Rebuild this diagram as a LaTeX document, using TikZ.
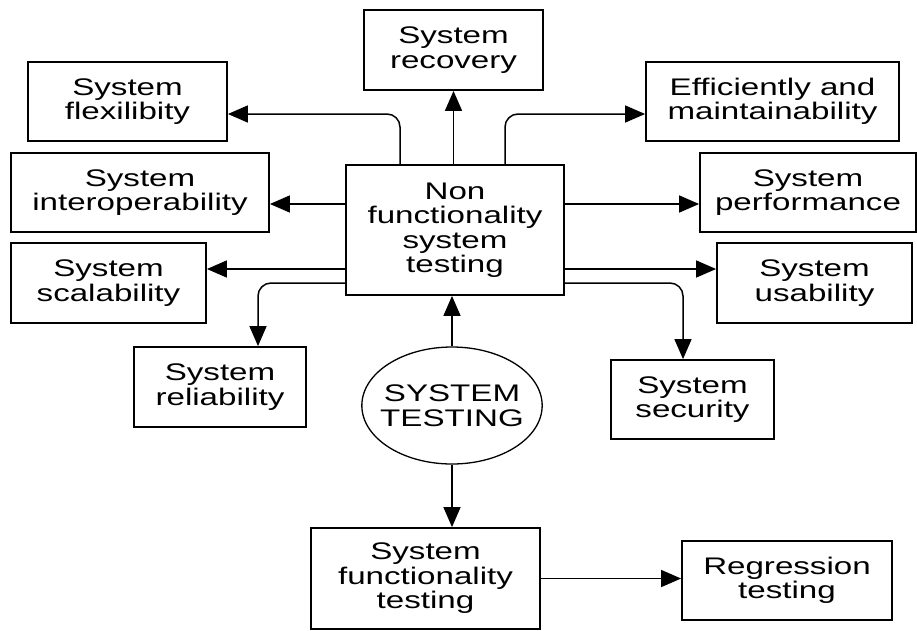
\documentclass[tikz,border=0pt]{standalone}
\usepackage{fontspec}
\setmainfont{Liberation Sans}[FakeStretch=1.38]
\usetikzlibrary{arrows.meta,shapes.geometric}
\begin{document}
\begin{tikzpicture}[x=1pt,y=-1pt,
  box/.style={draw,line width=1.8pt,align=center,inner sep=0pt,
    font=\fontsize{24}{24.5}\selectfont},
  arr/.style={line width=1.5pt,-{Triangle[length=20pt,width=17pt]},rounded corners=13pt}]
\useasboundingbox (0,0) rectangle (917,630);
\node[box,minimum width=218pt,minimum height=130pt] (nonfunc) at (455,230)
  {Non\\functionality\\system\\testing};
\node[box,minimum width=179pt,minimum height=80pt] (recovery) at (453.5,50) {System\\recovery};
\node[box,minimum width=199pt,minimum height=79pt] (flex) at (127.5,101.5) {System\\flexilibity};
\node[box,minimum width=258pt,minimum height=79pt] (interop) at (140,192.5) {System\\interoperability};
\node[box,minimum width=195pt,minimum height=80pt] (scal) at (108.5,283) {System\\scalability};
\node[box,minimum width=253pt,minimum height=79pt] (eff) at (772.5,101.5) {Efficiently and\\maintainability};
\node[box,minimum width=216pt,minimum height=79pt] (perf) at (808,192.5) {System\\performance};
\node[box,minimum width=195pt,minimum height=80pt] (usab) at (814.5,283) {System\\usability};
\node[box,minimum width=172pt,minimum height=80pt] (rel) at (220,387) {System\\reliability};
\node[box,minimum width=163pt,minimum height=79pt] (sec) at (692.5,399.5) {System\\security};
\node[box,ellipse,line width=1.3pt,inner xsep=-8pt,minimum width=178pt,minimum height=117pt]
  (systest) at (452,405.5) {SYSTEM\\TESTING};
\node[box,minimum width=229pt,minimum height=101pt] (functest) at (425.5,578.5)
  {System\\functionality\\testing};
\node[box,minimum width=210pt,minimum height=79pt] (regr) at (787,580.5) {Regression\\testing};
\draw[arr] (recovery.south |- nonfunc.north) -- (recovery.south);
\draw[arr] ([xshift=-55pt]nonfunc.north) |- ([yshift=-12.5pt]flex.east);
\draw[arr] ([xshift=50pt]nonfunc.north) |- ([yshift=-12.5pt]eff.west);
\draw[arr] ([yshift=26pt]nonfunc.west) -- ([yshift=26pt]nonfunc.west -| interop.east);
\draw[arr] ([yshift=26pt]nonfunc.east) -- ([yshift=26pt]nonfunc.east -| perf.west);
\draw[arr] ([yshift=-39pt]nonfunc.west) -- ([yshift=-39pt]nonfunc.west -| scal.east);
\draw[arr] ([yshift=-39pt]nonfunc.east) -- ([yshift=-39pt]nonfunc.east -| usab.west);
\draw[arr] ([yshift=-53pt]nonfunc.west) -| ([xshift=38pt]rel.north);
\draw[arr] ([yshift=-53pt]nonfunc.east) -| ([xshift=-9.5pt]sec.north);
\draw[arr] (systest.north) -- (systest.north |- nonfunc.south);
\draw[arr] (systest.south) -- (systest.south |- functest.north);
\draw[arr] (functest.east) -- (functest.east -| regr.west);
\end{tikzpicture}
\end{document}
